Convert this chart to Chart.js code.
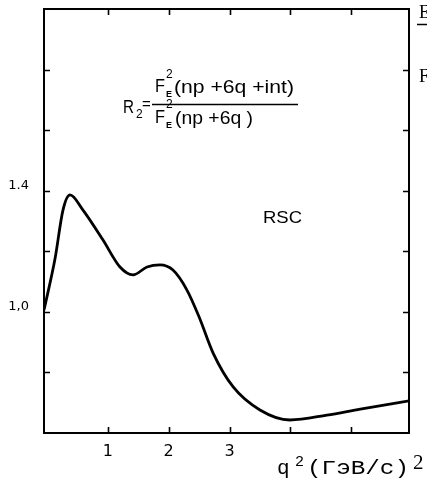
<!DOCTYPE html>
<html>
<head>
<meta charset="utf-8">
<script src="https://cdn.jsdelivr.net/npm/chart.js@4.4.0/dist/chart.umd.min.js"></script>
<style>
  html, body { margin: 0; padding: 0; background: #fff; }
  #wrap { position: relative; width: 427px; height: 480px; }
</style>
</head>
<body>
<div id="wrap"><canvas id="c" width="427" height="480"></canvas></div>
<script>
// ---- data ----
const qSquared = [-0.05, 0.131, 0.262, 0.377, 0.591, 0.92, 1.199, 1.413, 1.643, 1.857, 2.07, 2.30, 2.50, 2.73, 3.06, 3.50, 3.99, 4.60, 5.15, 5.95];
const r2Values = [1.006, 1.175, 1.336, 1.386, 1.336, 1.237, 1.148, 1.122, 1.148, 1.155, 1.138, 1.072, 0.983, 0.864, 0.752, 0.676, 0.643, 0.659, 0.679, 0.706];
const xTickValues = [1, 2, 3, 4, 5];
const xTickLabels = ['1', '2', '3', '', ''];
const yTickValues = [0.8, 1.0, 1.2, 1.4, 1.6, 1.8];
const yTickLabels = ['', '1,0', '', '1.4', '', ''];
const xAxisTitle = ['q', '2', '(ГэВ/с)', '2'];
const annotationRSC = 'RSC';

const points = qSquared.map((x, i) => ({ x, y: r2Values[i] }));

function fitText(ctx, text, x, y, width) {
  const w = ctx.measureText(text).width;
  ctx.save();
  ctx.translate(x, y);
  ctx.scale(width / w, 1);
  ctx.fillText(text, 0, 0);
  ctx.restore();
}

const framePlugin = {
  id: 'frame',
  afterDraw(chart) {
    const ctx = chart.ctx;
    const ca = chart.chartArea;
    const xs = chart.scales.x, ys = chart.scales.y;
    ctx.save();
    ctx.strokeStyle = '#000';
    ctx.lineWidth = 2;
    ctx.strokeRect(ca.left, ca.top, ca.right - ca.left, ca.bottom - ca.top);
    ctx.lineWidth = 1.6;
    ctx.beginPath();
    const tl = 6;
    xTickValues.forEach(v => {
      const px = Math.round(xs.getPixelForValue(v)) + 0.5;
      ctx.moveTo(px, ca.bottom); ctx.lineTo(px, ca.bottom - tl);
      ctx.moveTo(px, ca.top); ctx.lineTo(px, ca.top + tl);
    });
    yTickValues.forEach(v => {
      const py = Math.round(ys.getPixelForValue(v)) + 0.5;
      ctx.moveTo(ca.left, py); ctx.lineTo(ca.left + tl, py);
      ctx.moveTo(ca.right, py); ctx.lineTo(ca.right - tl, py);
    });
    ctx.stroke();

    // formula
    ctx.fillStyle = '#000';
    ctx.textBaseline = 'alphabetic';
    ctx.textAlign = 'left';
    const L = ca.left;
    const T = ca.top;
    const sans = '"Liberation Sans", Arial, sans-serif';
    ctx.font = '19px ' + sans;
    fitText(ctx, 'R', L + 79, T + 104, 11);
    ctx.font = '12px ' + sans;
    ctx.fillText('2', L + 92, T + 109);
    ctx.font = '15px ' + sans;
    ctx.fillText('=', L + 98, T + 100);
    // numerator
    ctx.font = '19px ' + sans;
    fitText(ctx, 'F', L + 111, T + 83, 10);
    ctx.font = '12px ' + sans;
    ctx.fillText('2', L + 122, T + 69);
    ctx.font = 'bold 9px ' + sans;
    ctx.fillText('E', L + 122, T + 88);
    ctx.font = '19px ' + sans;
    fitText(ctx, '(np +6q +int)', L + 130, T + 84, 120);
    // fraction line
    ctx.lineWidth = 1.5;
    ctx.beginPath();
    ctx.moveTo(L + 108, T + 95.5); ctx.lineTo(L + 254, T + 95.5);
    ctx.stroke();
    // denominator
    ctx.font = '19px ' + sans;
    fitText(ctx, 'F', L + 111, T + 114, 10);
    ctx.font = '12px ' + sans;
    ctx.fillText('2', L + 122, T + 99);
    ctx.font = 'bold 9px ' + sans;
    ctx.fillText('E', L + 122, T + 119);
    ctx.font = '19px ' + sans;
    fitText(ctx, '(np +6q )', L + 131, T + 115, 78);

    // RSC
    ctx.font = '17px ' + sans;
    fitText(ctx, annotationRSC, L + 219, T + 214, 39);

    // x axis title
    const mono = '"Liberation Mono", "DejaVu Sans Mono", monospace';
    ctx.font = '21px ' + mono;
    ctx.fillText(xAxisTitle[0], 277, 474);
    ctx.font = '15px ' + mono;
    ctx.fillText(xAxisTitle[1], 295, 466);
    ctx.font = '21px ' + mono;
    fitText(ctx, xAxisTitle[2], 307, 474, 102);
    ctx.font = '21px "Liberation Serif", "DejaVu Serif", serif';
    ctx.fillText(xAxisTitle[3], 413, 469);

    // fragments of neighbouring page text at the right edge
    ctx.font = '18px "Liberation Serif", serif';
    ctx.fillText('E', 419, 18);
    ctx.fillText('F', 419, 82);
    ctx.lineWidth = 1.5;
    ctx.beginPath();
    ctx.moveTo(417, 24.5); ctx.lineTo(427, 24.5);
    ctx.stroke();
    ctx.restore();
  }
};

new Chart(document.getElementById('c'), {
  type: 'line',
  data: {
    datasets: [{
      data: points,
      borderColor: '#000',
      borderWidth: 2.8,
      pointRadius: 0,
      fill: false,
      cubicInterpolationMode: 'monotone'
    }]
  },
  options: {
    responsive: false,
    animation: false,
    devicePixelRatio: 1,
    layout: { padding: { top: 9, right: 18, left: 0, bottom: 0 } },
    plugins: { legend: { display: false }, tooltip: { enabled: false } },
    scales: {
      x: {
        type: 'linear',
        min: -0.05, max: 5.95,
        grid: { display: false, drawTicks: false },
        border: { display: false },
        afterBuildTicks(s) { s.ticks = xTickValues.map(v => ({ value: v })); },
        afterFit(s) { s.height = 47; s.paddingLeft = 0; s.paddingRight = 0; },
        ticks: {
          autoSkip: false,
          maxRotation: 0,
          padding: 9,
          color: '#000',
          font: { family: '"DejaVu Sans", sans-serif', size: 16 },
          callback(v) { const i = xTickValues.indexOf(v); return i >= 0 ? xTickLabels[i] : ''; }
        }
      },
      y: {
        type: 'linear',
        min: 0.6, max: 2.0,
        grid: { display: false, drawTicks: false },
        border: { display: false },
        afterBuildTicks(s) { s.ticks = yTickValues.map(v => ({ value: v })); },
        afterFit(s) { s.width = 44; s.paddingTop = 0; s.paddingBottom = 0; },
        ticks: {
          autoSkip: false,
          padding: 15,
          labelOffset: -5,
          color: '#000',
          font: { family: '"DejaVu Sans", sans-serif', size: 13 },
          callback(v) {
            const i = yTickValues.findIndex(t => Math.abs(t - v) < 1e-6);
            return i >= 0 ? yTickLabels[i] : '';
          }
        }
      }
    }
  },
  plugins: [framePlugin]
});
</script>
</body>
</html>
